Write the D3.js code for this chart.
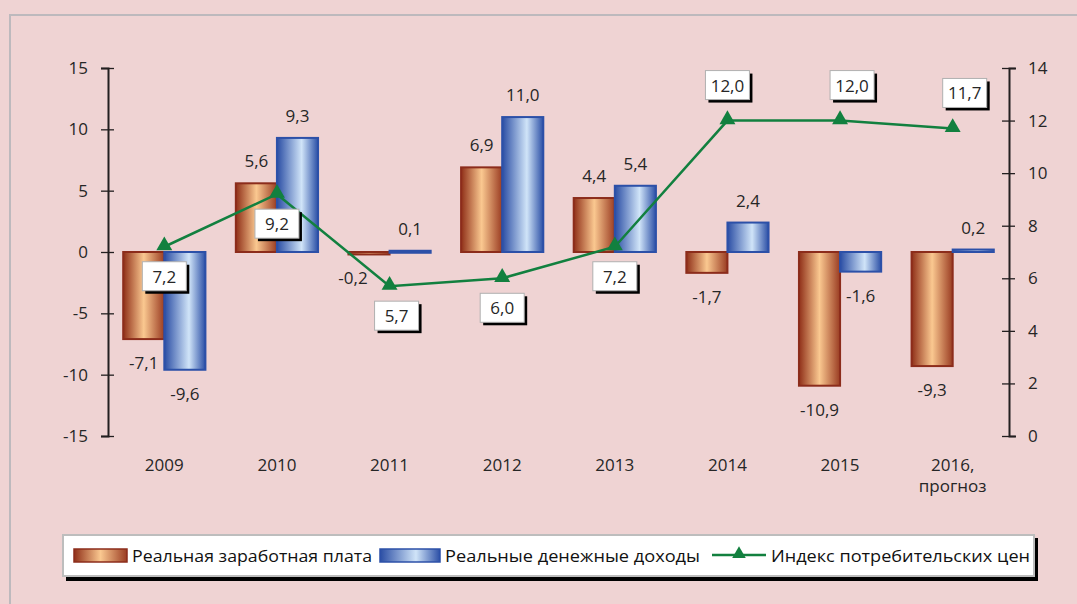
<!DOCTYPE html>
<html>
<head>
<meta charset="utf-8">
<script src="https://cdn.jsdelivr.net/npm/d3@7"></script>
<style>
  body { margin: 0; background: #efd3d3; }
  svg { display: block; font-family: "Open Sans", sans-serif; }
</style>
</head>
<body>
<svg id="chart" width="1077" height="604"></svg>
<script>
// data
var years = ["2009", "2010", "2011", "2012", "2013", "2014", "2015", "2016,|прогноз"];
var wages = [-7.1, 5.6, -0.2, 6.9, 4.4, -1.7, -10.9, -9.3];
var incomes = [-9.6, 9.3, 0.1, 11.0, 5.4, 2.4, -1.6, 0.2];
var cpi = [7.2, 9.2, 5.7, 6.0, 7.2, 12.0, 12.0, 11.7];
var leftTicks = [-15, -10, -5, 0, 5, 10, 15];
var rightTicks = [0, 2, 4, 6, 8, 10, 12, 14];
var legendNames = ["Реальная заработная плата", "Реальные денежные доходы", "Индекс потребительских цен"];

var svg = d3.select("#chart");
var fmt = function (v) { return d3.format(".1f")(v).replace(".", ",").replace("−", "-"); };
var textCol = "#262626";

// outer frame
svg.append("path").attr("d", "M10,604 L10,15 L1077,15")
  .attr("fill", "none").attr("stroke", "#bdb9bd").attr("stroke-width", 2);

// gradients
var defs = svg.append("defs");
function grad(id, stops) {
  var g = defs.append("linearGradient").attr("id", id)
    .attr("x1", 0).attr("x2", 1).attr("y1", 0).attr("y2", 0);
  stops.forEach(function (s) { g.append("stop").attr("offset", s[0]).attr("stop-color", s[1]); });
}
grad("gOrange", [[0, "#8f2f18"], [0.5, "#fac890"], [1, "#9a3c22"]]);
grad("gBlue", [[0, "#2a4da4"], [0.6, "#d0e4f8"], [1, "#2b4fa6"]]);

var x = d3.scaleBand().domain(d3.range(years.length)).range([108, 1009]).paddingInner(0.27).paddingOuter(0.135);
var xs = d3.scaleBand().domain([0, 1]).range([0, x.bandwidth()]);
var yL = d3.scaleLinear().domain([-15, 15]).range([436, 68]);
var yR = d3.scaleLinear().domain([0, 14]).range([436, 68]);
var step = x.step();
var cx = function (i) { return 108 + step * (i + 0.5); };

// axes
var axL = svg.append("g").attr("transform", "translate(108,0)")
  .call(d3.axisLeft(yL).tickValues(leftTicks).tickSize(7).tickFormat(function (d) { return d; }));
axL.selectAll(".tick line").attr("x2", 6).attr("x1", -7);
var axR = svg.append("g").attr("transform", "translate(1009,0)")
  .call(d3.axisRight(yR).tickValues(rightTicks).tickSize(7).tickFormat(function (d) { return d; }));
axR.selectAll(".tick line").attr("x1", -7).attr("x2", 6);
[axL, axR].forEach(function (a) {
  a.select(".domain").attr("stroke", "#231f20").attr("stroke-width", 2);
  a.selectAll(".tick line").attr("stroke", "#231f20").attr("stroke-width", 1.3);
  a.selectAll(".tick text").attr("font-size", 17).attr("fill", textCol).attr("font-family", "Open Sans");
});
axL.selectAll(".tick text").attr("x", -20);
axR.selectAll(".tick text").attr("x", 19);

// category labels
var cat = svg.append("g").selectAll("text").data(years).enter().append("text")
  .attr("x", function (d, i) { return cx(i); })
  .attr("y", 471).attr("text-anchor", "middle").attr("font-size", 17).attr("fill", textCol);
cat.each(function (d) {
  var parts = d.split("|");
  var t = d3.select(this);
  parts.forEach(function (p, k) {
    t.append("tspan").attr("x", t.attr("x")).attr("dy", k ? 21 : 0).text(p);
  });
});

// bars
var series = [
  { vals: wages, fill: "url(#gOrange)", stroke: "#8c2c1b", k: 0 },
  { vals: incomes, fill: "url(#gBlue)", stroke: "#2c50a8", k: 1 }
];
series.forEach(function (s) {
  var g = svg.append("g");
  g.selectAll("rect").data(s.vals).enter().append("rect")
    .attr("x", function (d, i) { return x(i) + xs(s.k); })
    .attr("width", xs.bandwidth())
    .attr("y", function (d) { return yL(Math.max(0, d)); })
    .attr("height", function (d) { return Math.max(2, Math.abs(yL(d) - yL(0))); })
    .attr("fill", s.fill).attr("stroke", s.stroke).attr("stroke-width", 2);
  g.selectAll("text").data(s.vals).enter().append("text")
    .attr("x", function (d, i) {
      var base = x(i) + xs(s.k) + xs.bandwidth() / 2;
      // small values sit beside the bar like in the original
      return (s.k === 0 && Math.abs(d) < 1) ? base - 16 : base;
    })
    .attr("y", function (d) { return d >= 0 ? yL(d) - 16 : yL(d) + 30; })
    .attr("text-anchor", "middle").attr("font-size", 17).attr("fill", textCol)
    .text(fmt);
});

// CPI line
var line = d3.line().x(function (d, i) { return cx(i); }).y(function (d) { return yR(d); });
svg.append("path").datum(cpi).attr("d", line)
  .attr("fill", "none").attr("stroke", "#12803f").attr("stroke-width", 2.5);
svg.append("g").selectAll("path").data(cpi).enter().append("path")
  .attr("d", d3.symbol().type(d3.symbolTriangle).size(110))
  .attr("transform", function (d, i) { return "translate(" + cx(i) + "," + (yR(d) - 1) + ")"; })
  .attr("fill", "#12803f");

// CPI boxed labels
var lab = svg.append("g").selectAll("g").data(cpi).enter().append("g")
  .attr("transform", function (d, i) {
    var ly = d >= 10 ? yR(d) - 34 : yR(d) + 31;
    var lx = cx(i) + (d >= 10 && i > 5 ? 13 : (i === 2 ? 8 : 1));
    return "translate(" + lx + "," + ly + ")";
  });
lab.append("rect").attr("x", -20).attr("y", -13).attr("width", 44).attr("height", 29).attr("fill", "#000");
lab.append("rect").attr("x", -23).attr("y", -16).attr("width", 44).attr("height", 29)
  .attr("fill", "#fff").attr("stroke", "#b0b0b0").attr("stroke-width", 1);
lab.append("text").attr("x", -1).attr("y", 5).attr("text-anchor", "middle")
  .attr("font-size", 17).attr("fill", textCol).text(fmt);

// legend
var lg = svg.append("g");
lg.append("rect").attr("x", 66).attr("y", 538).attr("width", 972).attr("height", 43).attr("fill", "#000");
lg.append("rect").attr("x", 63).attr("y", 535).attr("width", 971).attr("height", 41)
  .attr("fill", "#fff").attr("stroke", "#bdbdbd").attr("stroke-width", 2);
lg.append("rect").attr("x", 74).attr("y", 549).attr("width", 53).attr("height", 13)
  .attr("fill", "url(#gOrange)").attr("stroke", "#8c2c1b").attr("stroke-width", 1.5);
lg.append("rect").attr("x", 380).attr("y", 549).attr("width", 60).attr("height", 13)
  .attr("fill", "url(#gBlue)").attr("stroke", "#2c50a8").attr("stroke-width", 1.5);
lg.append("line").attr("x1", 712).attr("x2", 766).attr("y1", 555).attr("y2", 555)
  .attr("stroke", "#12803f").attr("stroke-width", 2.5);
lg.append("path").attr("d", d3.symbol().type(d3.symbolTriangle).size(80))
  .attr("transform", "translate(739,554)").attr("fill", "#12803f");
var lx = [132, 445, 771];
var lw = [240, 255, 259];
lg.selectAll("text").data(legendNames).enter().append("text")
  .attr("x", function (d, i) { return lx[i]; }).attr("y", 562)
  .attr("font-size", 17).attr("fill", "#111")
  .attr("textLength", function (d, i) { return lw[i]; })
  .attr("lengthAdjust", "spacingAndGlyphs")
  .text(function (d) { return d; });
</script>
</body>
</html>
